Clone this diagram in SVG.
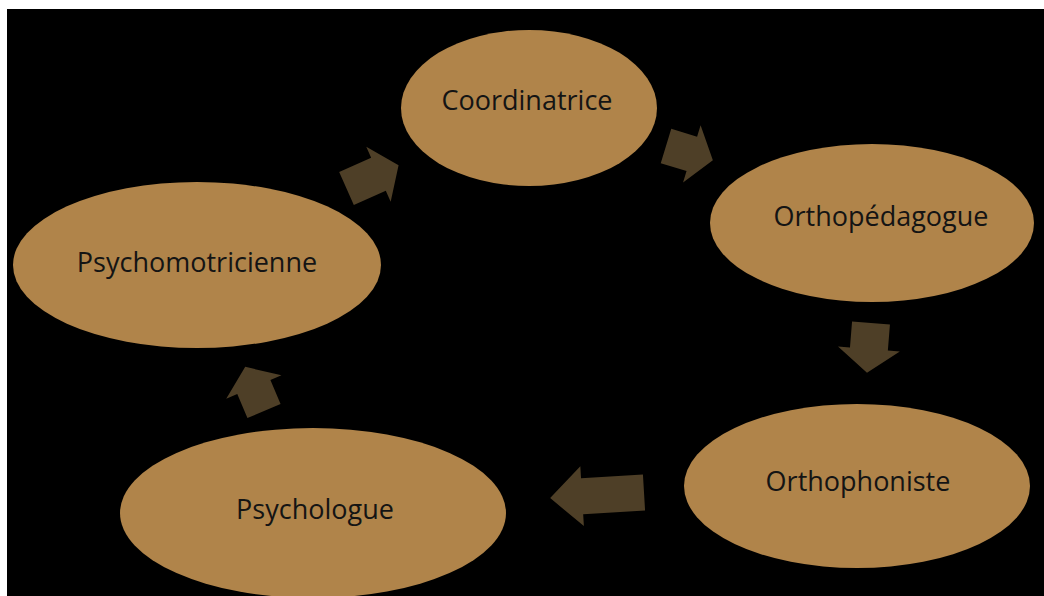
<svg xmlns="http://www.w3.org/2000/svg" width="1044" height="596" viewBox="0 0 1044 596">
<style>
.node ellipse{fill:#b0844a;}
.node text{font-family:"Open Sans","Liberation Sans",sans-serif;font-size:27px;fill:#141414;text-anchor:middle;}
.arrow{fill:#4e3f27;}
</style>
<rect x="0" y="0" width="1044" height="596" fill="#ffffff"/>
<rect x="7" y="9" width="1037" height="587" fill="#000000"/>
<g id="coordinatrice" class="node"><ellipse cx="529" cy="108" rx="128" ry="78"/><text x="527" y="110">Coordinatrice</text></g>
<g id="orthopedagogue" class="node"><ellipse cx="872" cy="223" rx="162" ry="79"/><text x="881" y="226">Orthopédagogue</text></g>
<g id="orthophoniste" class="node"><ellipse cx="857" cy="486" rx="173" ry="82"/><text x="858" y="491">Orthophoniste</text></g>
<g id="psychologue" class="node"><ellipse cx="313" cy="513" rx="193" ry="85"/><text x="315" y="519">Psychologue</text></g>
<g id="psychomotricienne" class="node"><ellipse cx="197" cy="265" rx="184" ry="83"/><text x="197" y="272">Psychomotricienne</text></g>
<g id="connectors">
<polygon class="arrow" transform="translate(346.5,188.5) rotate(-24)" points="0,-18 35,-18 35,-30 57,0 35,30 35,18 0,18"/>
<polygon class="arrow" transform="translate(666,146) rotate(17)" points="0,-18 27,-18 27,-30 49,0 27,30 27,18 0,18"/>
<polygon class="arrow" transform="translate(871,323) rotate(94.6)" points="0,-19 26,-19 26,-31 50,0 26,31 26,19 0,19"/>
<polygon class="arrow" transform="translate(644,492.5) rotate(176.6)" points="0,-18 62,-18 62,-30 94,0 62,30 62,18 0,18"/>
<polygon class="arrow" transform="translate(264,411) rotate(-113)" points="0,-18 26,-18 26,-30 48,0 26,30 26,18 0,18"/>
</g>
</svg>
